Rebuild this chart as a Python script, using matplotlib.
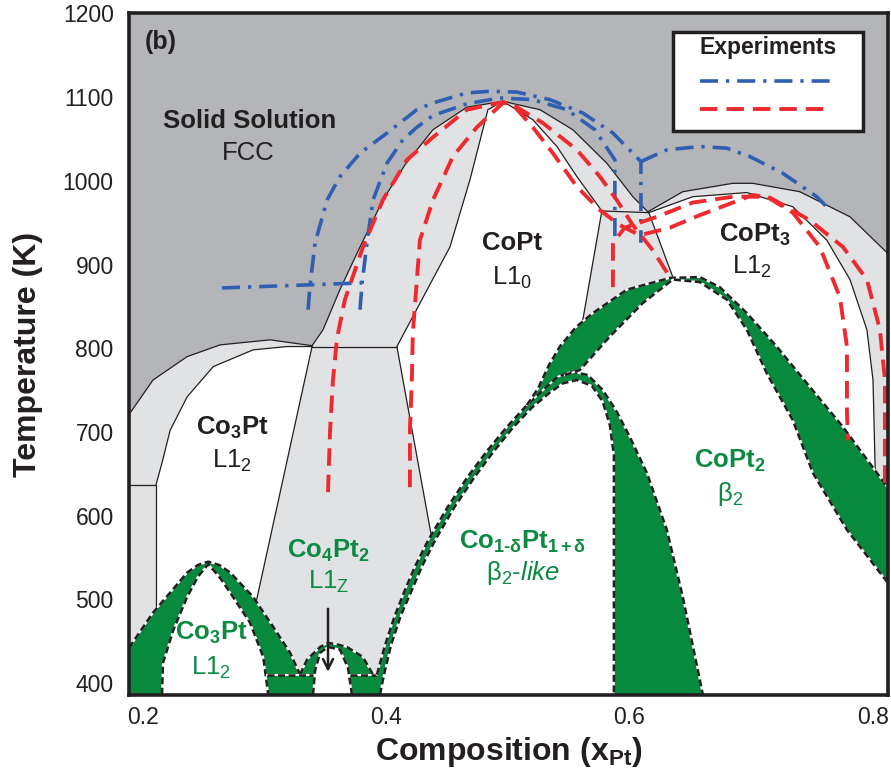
import matplotlib.pyplot as plt
from matplotlib.patches import Rectangle

plt.rcParams['font.family'] = ['Liberation Sans', 'DejaVu Sans']
plt.rcParams['mathtext.fontset'] = 'custom'
plt.rcParams['mathtext.rm'] = 'Liberation Sans'
plt.rcParams['mathtext.it'] = 'Liberation Sans:italic'
plt.rcParams['mathtext.bf'] = 'Liberation Sans:bold'

DARK = '#b4b5b8'
LIGHT = '#e1e2e4'
GREEN = '#078a3e'
TGREEN = '#0b8a42'
RED = '#ee2a2e'
BLUE = '#2f5fb3'
INK = '#231f20'

# ---- calculated phase boundaries (composition x_Pt, temperature K) ----
# FCC solid solution / two-phase envelope, left frame -> right frame
fcc_x = [0.1889, 0.1914, 0.2086, 0.2367, 0.2638, 0.3049, 0.3393, 0.3483, 0.3622,
         0.3787, 0.3975, 0.4156, 0.4386, 0.4665, 0.4961, 0.5265, 0.5536, 0.5815,
         0.6029, 0.6152, 0.6439, 0.6850, 0.7014, 0.7400, 0.7813, 0.8125]
fcc_T = [721, 726, 762, 790, 804, 810, 803, 822, 870, 921, 977, 1019, 1061, 1088,
         1095, 1085, 1061, 1021, 981, 963, 987, 997, 997, 987, 957, 913]

# Co3Pt L1_2 ordered region
co3pt_x = [0.2111, 0.2160, 0.2227, 0.2367, 0.2581, 0.2908, 0.3189, 0.3393]
co3pt_T = [637, 663, 702, 742, 778, 798, 802, 802]
co3pt_right_x = [0.3393, 0.2943, 0.2752]
co3pt_right_T = [802, 503, 386]
co3pt_step_x = [0.1889, 0.2111, 0.2111]
co3pt_step_T = [637, 637, 470]
peritectoid_x = [0.3393, 0.4090]
peritectoid_T = [802, 802]

# CoPt L1_0 ordered region
copt_left_x = [0.4393, 0.4279, 0.4090, 0.4526, 0.4690, 0.4838, 0.4961]
copt_left_T = [560, 651, 802, 921, 1001, 1085, 1095]
copt_right_x = [0.4961, 0.5207, 0.5405, 0.5569, 0.5774]
copt_right_T = [1095, 1073, 1041, 1005, 964]
quad_x = [0.5618, 0.5774, 0.6160, 0.6357]
quad_T = [834, 964, 962, 885]

# CoPt3 L1_2 ordered region
copt3_x = [0.6160, 0.6521, 0.6965, 0.7343, 0.7623, 0.7813, 0.7952, 0.8002, 0.8018, 0.8034]
copt3_T = [962, 981, 986, 969, 929, 882, 822, 762, 666, 600]

# ---- low temperature phases (green two-phase bands) ----
g_co3pt_out_x = [0.1889, 0.2086, 0.2227, 0.2367, 0.2455, 0.2540, 0.2630, 0.2720, 0.2908, 0.3074, 0.3213, 0.3294]
g_co3pt_out_T = [442, 484, 508, 532, 541, 545, 541, 532, 503, 467, 436, 410]
g_co3pt_in_x = [0.2160, 0.2168, 0.2252, 0.2367, 0.2455, 0.2540, 0.2630, 0.2720, 0.2883, 0.2992, 0.3033]
g_co3pt_in_T = [386, 424, 463, 503, 527, 542, 527, 508, 472, 431, 386]

g_co4pt2_out_x = [0.3294, 0.3352, 0.3459, 0.3524, 0.3600, 0.3680, 0.3811, 0.3894]
g_co4pt2_out_T = [410, 428, 443, 448, 446, 443, 431, 410]
g_co4pt2_in_x = [0.3401, 0.3418, 0.3459, 0.3524, 0.3622, 0.3688, 0.3721]
g_co4pt2_in_T = [386, 415, 436, 443, 440, 418, 386]

tie1_x = [0.3025, 0.3401]
tie2_x = [0.3705, 0.3926]
tie_T = [410, 410]

dome_out_x = [0.3926, 0.3992, 0.4074, 0.4156, 0.4238, 0.4345, 0.4502, 0.4665, 0.4829, 0.4994,
              0.5158, 0.5306, 0.5412, 0.5528, 0.5659, 0.5782, 0.5897, 0.6004, 0.6144, 0.6308,
              0.6439, 0.6604]
dome_out_T = [410, 445, 481, 511, 539, 570, 609, 645, 677, 706, 732, 752, 766, 772, 768, 750,
              724, 694, 651, 583, 503, 386]
dome_in_x = [0.3951, 0.3984, 0.4041, 0.4123, 0.4213, 0.4295, 0.4402, 0.4558, 0.4723, 0.4887,
             0.5043, 0.5199, 0.5347, 0.5454, 0.5569, 0.5692, 0.5782, 0.5840, 0.5873, 0.5873]
dome_in_T = [386, 410, 445, 481, 511, 539, 570, 609, 645, 677, 705, 729, 747, 758, 762, 755,
             736, 708, 672, 386]

copt2_out_x = [0.5158, 0.5250, 0.5340, 0.5429, 0.5560, 0.5700, 0.5980, 0.6333, 0.6579, 0.6743,
               0.6965, 0.7211, 0.7482, 0.7755, 0.8034, 0.8125]
copt2_out_T = [732, 752, 780, 802, 825, 842, 870, 884, 885, 873, 842, 802, 754, 706, 651, 633]
copt2_in_x = [0.5470, 0.5594, 0.5840, 0.6111, 0.6357, 0.6579, 0.6801, 0.6965, 0.7129, 0.7343,
              0.7508, 0.7788, 0.8117]
copt2_in_T = [768, 774, 814, 854, 882, 879, 858, 822, 770, 714, 651, 583, 521]

# ---- experiments ----
blue_h_x = [0.2653, 0.3803]
blue_h_T = [872, 878]
blue_out_x = [0.3360, 0.3377, 0.3418, 0.3516, 0.3622, 0.3787, 0.4008, 0.4254, 0.4386, 0.4665,
              0.4854, 0.5076, 0.5347, 0.5618, 0.5865, 0.6029, 0.6095, 0.6095]
blue_out_T = [846, 876, 926, 977, 1005, 1033, 1057, 1085, 1093, 1105, 1107, 1106, 1097, 1081,
              1057, 1033, 1023, 926]
blue_in_x = [0.3787, 0.3803, 0.3844, 0.3894, 0.4008, 0.4139, 0.4254, 0.4386, 0.4665, 0.4936,
             0.5207, 0.5487, 0.5717, 0.5881, 0.5881]
blue_in_T = [846, 876, 926, 977, 1021, 1049, 1064, 1078, 1092, 1099, 1097, 1085, 1061, 1025, 933]
blue_copt3_x = [0.6095, 0.6308, 0.6579, 0.6801, 0.6990, 0.7261, 0.7540, 0.7648]
blue_copt3_T = [1023, 1037, 1041, 1039, 1029, 1009, 981, 965]

red_out_x = [0.3524, 0.3541, 0.3565, 0.3598, 0.3663, 0.3811, 0.3975, 0.4172, 0.4386, 0.4665,
             0.4961, 0.5043, 0.5207, 0.5372, 0.5569, 0.5758, 0.5922, 0.6086, 0.6333, 0.6579,
             0.6850, 0.7014, 0.7154, 0.7482, 0.7755, 0.7952, 0.8059, 0.8100, 0.8100]
red_out_T = [628, 702, 762, 812, 858, 921, 977, 1025, 1052, 1085, 1094, 1091, 1064, 1033, 993,
             965, 947, 935, 944, 959, 974, 983, 980, 953, 921, 882, 822, 762, 631]
red_in_x = [0.4197, 0.4197, 0.4213, 0.4221, 0.4279, 0.4386, 0.4550, 0.4747, 0.4961, 0.5018,
            0.5290, 0.5569, 0.5758, 0.5897, 0.6029, 0.6193, 0.6333]
red_in_T = [634, 702, 762, 818, 929, 977, 1029, 1064, 1093, 1093, 1069, 1037, 1005, 977, 947, 917, 885]
red_copt3_x = [0.5865, 0.5865, 0.5963, 0.6226, 0.6521, 0.6850, 0.7129, 0.7343, 0.7565, 0.7730,
               0.7788, 0.7788, 0.7797]
red_copt3_T = [873, 926, 944, 957, 974, 981, 981, 962, 921, 861, 802, 723, 690]

BASE = 370


def under(xs, ts):
    return xs + [xs[-1], xs[0]], ts + [BASE, BASE]


fig = plt.figure(figsize=(8.91, 7.74), dpi=100)
ax = fig.add_axes([0.1448, 0.1021, 0.8518, 0.8811])
ax.set_facecolor(DARK)

# two-phase / ordered regions
ex, et = under(fcc_x, fcc_T)
ax.fill(ex, et, color=LIGHT, lw=0, zorder=1)
ax.fill([co3pt_x[0]] + co3pt_x + co3pt_right_x[1:], [BASE] + co3pt_T + co3pt_right_T[1:],
        color='white', lw=0, zorder=2)
ax.fill(copt_left_x + copt_right_x[1:] + quad_x[:1] + [0.5758],
        copt_left_T + copt_right_T[1:] + quad_T[:1] + [560], color='white', lw=0, zorder=2)
ax.fill(copt3_x + [copt3_x[-1], 0.6579, quad_x[-1]], copt3_T + [583, 583, quad_T[-1]],
        color='white', lw=0, zorder=2)

# thin phase boundary lines
thin = dict(color=INK, lw=0.9, zorder=3)
ax.plot(fcc_x, fcc_T, **thin)
ax.plot(co3pt_x, co3pt_T, **thin)
ax.plot(co3pt_right_x, co3pt_right_T, **thin)
ax.plot(co3pt_step_x, co3pt_step_T, **thin)
ax.plot(peritectoid_x, peritectoid_T, **thin)
ax.plot(copt_left_x, copt_left_T, **thin)
ax.plot(copt_right_x, copt_right_T, **thin)
ax.plot(quad_x, quad_T, **thin)
ax.plot(copt3_x, copt3_T, **thin)

# green bands
gx = g_co3pt_out_x + tie1_x[1:] + g_co4pt2_out_x + [0.3926, 0.3951, 0.3951, 0.1889]
gt = g_co3pt_out_T + tie_T[1:] + g_co4pt2_out_T + [410, 386, BASE, BASE]
ax.fill(gx, gt, color=GREEN, lw=0, zorder=4)
x, t = under(copt2_out_x, copt2_out_T)
ax.fill(x, t, color=GREEN, lw=0, zorder=4)
x, t = under(copt2_in_x, copt2_in_T)
ax.fill(x, t, color='white', lw=0, zorder=5)
x, t = under(dome_out_x, dome_out_T)
ax.fill(x, t, color=GREEN, lw=0, zorder=6)
x, t = under(dome_in_x, dome_in_T)
ax.fill(x, t, color='white', lw=0, zorder=7)
x, t = under(g_co3pt_in_x, g_co3pt_in_T)
ax.fill(x, t, color='white', lw=0, zorder=7)
x, t = under(g_co4pt2_in_x, g_co4pt2_in_T)
ax.fill(x, t, color='white', lw=0, zorder=7)

dashed_curves = [(g_co3pt_out_x, g_co3pt_out_T), (g_co3pt_in_x, g_co3pt_in_T),
                 (g_co4pt2_out_x, g_co4pt2_out_T), (g_co4pt2_in_x, g_co4pt2_in_T),
                 (tie1_x, tie_T), (tie2_x, tie_T),
                 (dome_out_x, dome_out_T), (dome_in_x, dome_in_T),
                 (copt2_out_x, copt2_out_T), (copt2_in_x, copt2_in_T)]
for cx, ct in dashed_curves:
    ax.plot(cx, ct, color='white', lw=1.4, zorder=8)
    ax.plot(cx, ct, color=INK, lw=1.8, ls=(0, (2.8, 1.4)), zorder=8)

# experimental boundaries
bstyle = dict(color=BLUE, lw=2.6, ls=(0, (5.0, 2.2, 0.9, 2.2)), zorder=9)
rstyle = dict(color=RED, lw=2.8, ls=(0, (4.5, 2.3)), zorder=9)
for cx, ct in [(blue_h_x, blue_h_T), (blue_out_x, blue_out_T), (blue_in_x, blue_in_T),
               (blue_copt3_x, blue_copt3_T)]:
    ax.plot(cx, ct, **bstyle)
for cx, ct in [(red_out_x, red_out_T), (red_in_x, red_in_T), (red_copt3_x, red_copt3_T)]:
    ax.plot(cx, ct, **rstyle)

ax.annotate('', xy=(0.3524, 410), xytext=(0.3524, 492),
            arrowprops=dict(arrowstyle='->', color=INK, lw=1.8, mutation_scale=18), zorder=10)

# labels
kb = dict(color=INK, fontsize=18.5, fontweight='bold', ha='center', va='center', zorder=11)
kn = dict(color=INK, fontsize=18.5, ha='center', va='center', zorder=11)
gb = dict(color=TGREEN, fontsize=18.5, fontweight='bold', ha='center', va='center', zorder=11)
gn = dict(color=TGREEN, fontsize=18.5, ha='center', va='center', zorder=11)
ax.text(0.2883, 1071, 'Solid Solution', **kb)
ax.text(0.2869, 1033, 'FCC', **kn)
ax.text(0.5035, 926, 'CoPt', **kb)
ax.text(0.5035, 884, 'L1$_\\mathrm{0}$', **kn)
ax.text(0.7033, 935, 'CoPt$_\\mathbf{3}$', **kb)
ax.text(0.7008, 897, 'L1$_\\mathrm{2}$', **kn)
ax.text(0.2737, 705, 'Co$_\\mathbf{3}$Pt', **kb)
ax.text(0.2737, 665, 'L1$_\\mathrm{2}$', **kn)
ax.text(0.3524, 558, 'Co$_\\mathbf{4}$Pt$_\\mathbf{2}$', **gb)
ax.text(0.3532, 521, 'L1$_\\mathrm{Z}$', **gn)
ax.text(0.2564, 460, 'Co$_\\mathbf{3}$Pt', **gb)
ax.text(0.2564, 418, 'L1$_\\mathrm{2}$', **gn)
ax.text(0.5125, 569, 'Co$_\\mathbf{1\u2010\u03b4}$Pt$_\\mathbf{1+\u03b4}$', **gb)
ax.text(0.5125, 532, '\u03b2$_\\mathrm{2}$-$\\mathit{like}$', **gn)
ax.text(0.6827, 665, 'CoPt$_\\mathbf{2}$', **gb)
ax.text(0.6827, 626, '\u03b2$_\\mathrm{2}$', **gn)
ax.text(0.021, 0.957, '(b)', transform=ax.transAxes, color=INK, fontsize=18,
        fontweight='bold', ha='left', va='center', zorder=11)

# legend box
ax.add_patch(Rectangle((0.7167, 0.8270), 0.2504, 0.1451, transform=ax.transAxes,
                       facecolor='white', edgecolor=INK, lw=2.5, zorder=12))
ax.text(0.8419, 0.9487, 'Experiments', transform=ax.transAxes, color=INK, fontsize=16.5,
        fontweight='bold', ha='center', va='center', zorder=13)
ax.plot([0.7523, 0.9275], [0.9003, 0.9003], transform=ax.transAxes, **dict(bstyle, zorder=13))
ax.plot([0.7523, 0.9209], [0.8592, 0.8592], transform=ax.transAxes, **dict(rstyle, zorder=13))

ax.set_xlim(0.1889, 0.8125)
ax.set_ylim(385.7, 1200.5)
ax.set_xticks([0.2, 0.4, 0.6, 0.8])
ax.set_xticklabels(['0.2', '0.4', '0.6', '0.8'])
ax.set_yticks([400, 500, 600, 700, 800, 900, 1000, 1100, 1200])
ax.tick_params(length=0, labelsize=16.5, labelcolor=INK)
ax.tick_params(axis='y', pad=11)
ax.tick_params(axis='x', pad=8)
for s in ax.spines.values():
    s.set_linewidth(2.6)
    s.set_color(INK)
    s.set_zorder(20)
ax.set_xlabel('Composition (x$_\\mathbf{Pt}$)', fontsize=23, fontweight='bold', color=INK, labelpad=4)
ax.set_ylabel('Temperature (K)', fontsize=23, fontweight='bold', color=INK, labelpad=14)

fig.savefig('out.png', dpi=100)
